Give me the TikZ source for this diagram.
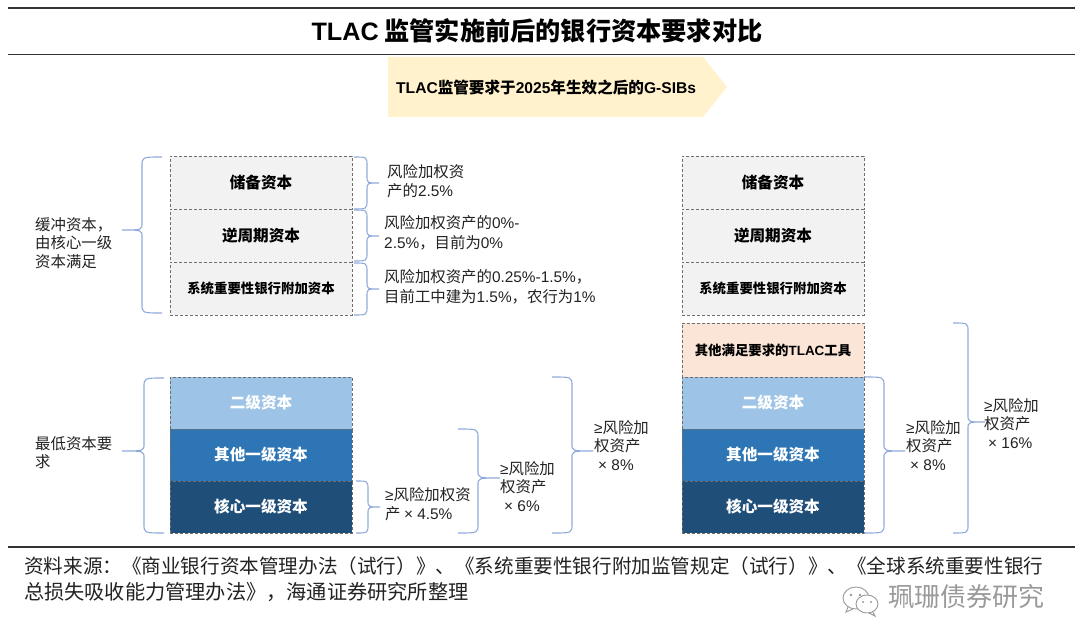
\documentclass[tikz,border=0pt]{standalone}
\usepackage{fontspec}
\setmainfont{Noto Sans CJK SC}
\newfontfamily\latf{Liberation Sans}
\newcommand{\lat}[1]{{\latf #1}}
\definecolor{bracec}{HTML}{8FAADC}
\definecolor{dashc}{HTML}{6E6E6E}
\definecolor{greyf}{HTML}{F2F2F2}
\definecolor{t2f}{HTML}{9DC3E6}
\definecolor{at1f}{HTML}{2E75B6}
\definecolor{cet1f}{HTML}{1F4E79}
\definecolor{tlacf}{HTML}{FBE5D6}
\definecolor{bannerf}{HTML}{FFF2CC}
\definecolor{txt}{HTML}{222222}
\definecolor{wm}{HTML}{9A9A9A}
\tikzset{
  capbox/.style={draw=dashc,densely dashed,line width=0.8pt,inner sep=0pt,text width=182pt,align=center},
  bigbox/.style={capbox,font=\fontsize{15.6}{18}\selectfont\bfseries},
  smallbox/.style={capbox,font=\fontsize{13.4}{16}\selectfont\bfseries},
  note/.style={font=\fontsize{15.4}{18.6}\selectfont,text=txt,align=left,anchor=north west,inner sep=0pt},
  bracel/.style={draw=bracec,line width=1.1pt},
  rule/.style={draw=black!80,line width=1.2pt}
}
% right-pointing brace: end x, spine x, tip x, top y, mid y, bottom y
\newcommand{\rbr}[6]{\draw[bracel] (#1,#4) .. controls (#2,#4) .. (#2,#4+9) -- (#2,#5-7) .. controls (#2,#5) .. (#3,#5) .. controls (#2,#5) .. (#2,#5+7) -- (#2,#6-9) .. controls (#2,#6) .. (#1,#6);}
\begin{document}
\begin{tikzpicture}[x=1pt,y=-1pt]
\useasboundingbox (0,0) rectangle (1080,644);
\fill[white] (0,0) rectangle (1080,644);
% rules
\coordinate (r1a) at (8,8); \coordinate (r1b) at (1075,8);
\coordinate (r2a) at (8,54.5); \coordinate (r2b) at (1075,54.5);
\coordinate (r3a) at (8,547); \coordinate (r3b) at (1075,547);
\draw[rule] (r1a) -- (r1b);
\draw[rule] (r2a) -- (r2b);
\draw[rule] (r3a) -- (r3b);
\node (title) at (537,31) {\fontsize{25.2}{30}\selectfont\bfseries\lat{TLAC} 监管实施前后的银行资本要求对比};
% banner
\fill[bannerf] (388,57) -- (703,57) -- (727,87) -- (703,117) -- (388,117) -- cycle;
\node[anchor=west,inner sep=0pt] (bannertxt) at (396,87) {\fontsize{15.6}{18}\selectfont\bfseries\lat{TLAC}监管要求于\lat{2025}年生效之后的\lat{G-SIBs}};
% left stack
\node[bigbox,fill=greyf,minimum height=53pt] (a1) at (261,183) {储备资本};
\node[bigbox,fill=greyf,minimum height=53pt] (a2) at (261,235.5) {逆周期资本};
\node[smallbox,fill=greyf,minimum height=53pt] (a3) at (261,288.5) {系统重要性银行附加资本};
\node[bigbox,fill=t2f,text=white,minimum height=52pt] (a4) at (261,403) {二级资本};
\node[bigbox,fill=at1f,text=white,minimum height=52pt] (a5) at (261,455) {其他一级资本};
\node[bigbox,fill=cet1f,text=white,minimum height=52pt] (a6) at (261,507) {核心一级资本};
% right stack
\node[bigbox,fill=greyf,minimum height=53pt] (b1) at (773,183) {储备资本};
\node[bigbox,fill=greyf,minimum height=53pt] (b2) at (773,235.5) {逆周期资本};
\node[smallbox,fill=greyf,minimum height=53pt] (b3) at (773,288.5) {系统重要性银行附加资本};
\node[smallbox,fill=tlacf,minimum height=54pt] (b0) at (773,350) {其他满足要求的\lat{TLAC}工具};
\node[bigbox,fill=t2f,text=white,minimum height=52pt] (b4) at (773,403) {二级资本};
\node[bigbox,fill=at1f,text=white,minimum height=52pt] (b5) at (773,455) {其他一级资本};
\node[bigbox,fill=cet1f,text=white,minimum height=52pt] (b6) at (773,507) {核心一级资本};
% left-pointing braces
\draw[bracel] (162,157) .. controls (142,157) .. (142,166) -- (142,223) .. controls (142,230) .. (122,230) .. controls (142,230) .. (142,237) -- (142,304) .. controls (142,313) .. (162,313);
\draw[bracel] (164,378) .. controls (144,378) .. (144,387) -- (144,444) .. controls (144,451) .. (122,451) .. controls (144,451) .. (144,458) -- (144,524) .. controls (144,533) .. (164,533);
% right-pointing braces
\rbr{354}{367}{379}{157}{183}{209}
\rbr{354}{367}{379}{210}{236}{261}
\rbr{354}{367}{379}{263}{289}{315}
\rbr{356}{368}{380}{481}{507}{533}
\rbr{458}{478}{500}{429}{478}{533}
\rbr{552}{572}{593}{377}{451}{533}
\rbr{864}{884}{905}{377}{451}{533}
\rbr{953}{968}{985}{323}{422}{533}
% notes
\node[note] (n1) at (35,217) {缓冲资本，\\由核心一级\\资本满足};
\node[note] (n2) at (35,436) {最低资本要\\求};
\node[note] (n3) at (387,164.5) {风险加权资\\产的\lat{2.5\%}};
\node[note,font=\fontsize{15.4}{20}\selectfont] (n4) at (384,215) {风险加权资产的\lat{0\%-}\\\lat{2.5\%}，目前为\lat{0\%}};
\node[note,font=\fontsize{15.4}{20}\selectfont] (n5) at (384,269) {风险加权资产的\lat{0.25\%-1.5\%}，\\目前工中建为\lat{1.5\%}，农行为\lat{1\%}};
\node[note] (n6) at (385,487.5) {\lat{≥}风险加权资\\产 \lat{× 4.5\%}};
\node[note] (n7) at (500,461) {\lat{≥}风险加\\权资产\\\hspace*{4pt}\lat{× 6\%}};
\node[note] (n8) at (594,420) {\lat{≥}风险加\\权资产\\\hspace*{4pt}\lat{× 8\%}};
\node[note] (n9) at (906,420) {\lat{≥}风险加\\权资产\\\hspace*{4pt}\lat{× 8\%}};
\node[note] (n10) at (984,398) {\lat{≥}风险加\\权资产\\\hspace*{4pt}\lat{× 16\%}};
% source
\node[anchor=north west,inner sep=0pt,align=left,text=txt,font=\fontsize{19.6}{26}\selectfont] (src) at (24,557) {资料来源：《商业银行资本管理办法（试行）》、《系统重要性银行附加监管规定（试行）》、《全球系统重要性银行\\{\fontsize{20.2}{26}\selectfont 总损失吸收能力管理办法》，海通证券研究所整理}};
% watermark
\draw[wm,line width=0.9pt,fill=white] (856,598) ellipse (13 and 11);
\draw[wm,line width=0.9pt] (848,607) -- (846,612) -- (853,609);
\draw[wm,line width=0.9pt,fill=white] (867,604) ellipse (11 and 9);
\draw[wm,line width=0.9pt] (873,612) -- (875,616) -- (869,613);
\fill[wm] (851,595) circle (1.3) (860,595) circle (1.3) (863,602) circle (1.1) (871,602) circle (1.1);
\node[anchor=west,inner sep=0pt,text=wm,font=\fontsize{26}{30}\selectfont] (mark) at (888,597) {珮珊债券研究};
\end{tikzpicture}
\end{document}
